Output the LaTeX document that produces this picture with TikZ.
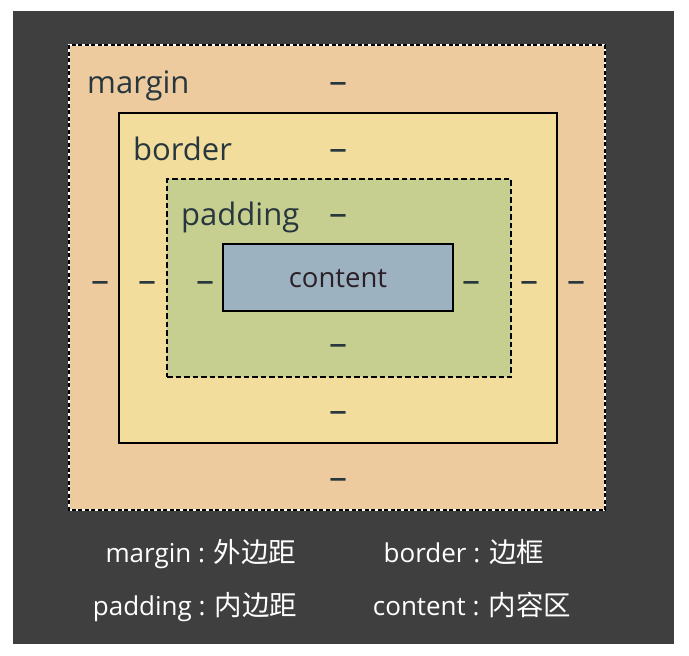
\documentclass[tikz,border=0pt]{standalone}
\usepackage{fontspec}
\setmainfont{Open Sans}
\newfontfamily\cjk{Noto Sans CJK SC}
\definecolor{bgdark}{HTML}{3F3F3F}
\definecolor{marginfill}{HTML}{EDCB9F}
\definecolor{borderfill}{HTML}{F3DD9D}
\definecolor{paddingfill}{HTML}{C6CF90}
\definecolor{contentfill}{HTML}{9DB2C0}
\definecolor{boxtext}{HTML}{28363E}
\definecolor{contenttext}{HTML}{2B2027}
\newcommand{\zh}[1]{{\cjk\fontsize{27.5}{30}\selectfont #1}}
\begin{document}
\begin{tikzpicture}[x=1pt,y=-1pt,
  layer/.style={anchor=north west, inner sep=0pt, outer sep=0pt},
  boxlabel/.style={anchor=base west, inner sep=0pt, text=boxtext,
    font=\fontsize{31}{34}\selectfont},
  dashmark/.style={anchor=base, inner sep=0pt, yshift=-9.6pt, text=boxtext,
    font=\fontsize{36}{38}\selectfont},
  legend/.style={anchor=base, inner sep=0pt, text=white,
    font=\fontsize{26}{30}\selectfont}]
\fill[white] (0,0) rectangle (689,656);
\useasboundingbox (0,0) rectangle (689,656);
\fill[bgdark] (13,11) rectangle (674,644);

% nested boxes of the box model
\node[layer, fill=marginfill, draw=white, line width=1.6pt,
      minimum width=536pt, minimum height=465pt] (margin) at (69,45) {};
\draw[line width=1.6pt, dash pattern=on 4pt off 2.5pt]
  (margin.north west) rectangle (margin.south east);
\node[layer, fill=borderfill, draw=black, line width=2pt,
      minimum width=438pt, minimum height=330pt] (border) at (119,113) {};
\node[layer, fill=paddingfill, draw=black, line width=1.8pt,
      dash pattern=on 5.5pt off 3pt,
      minimum width=344pt, minimum height=198pt] (padding) at (167,179) {};
\node[layer, fill=contentfill, draw=black, line width=2pt,
      minimum width=230pt, minimum height=67pt] (content) at (223,244) {};

% box labels
\node[boxlabel] (lmargin) at (87,93) {margin};
\node[boxlabel] (lborder) at (133,160) {border};
\node[boxlabel] (lpadding) at (181,225) {padding};
\node[anchor=base, inner sep=0pt, text=contenttext,
      font=\fontsize{27.5}{30}\selectfont] (lcontent) at (338,287) {content};

% size placeholders
\node[dashmark] (mt) at (338,84) {–};
\node[dashmark] (bt) at (338,151) {–};
\node[dashmark] (pt) at (338,216) {–};
\node[dashmark] (pb) at (338,346) {–};
\node[dashmark] (bb) at (338,413) {–};
\node[dashmark] (mb) at (338,480) {–};
\node[dashmark] (ml) at (100,283) {–};
\node[dashmark] (bl) at (147,283) {–};
\node[dashmark] (pl) at (205,283) {–};
\node[dashmark] (pr) at (471,283) {–};
\node[dashmark] (br) at (529,283) {–};
\node[dashmark] (mr) at (576,283) {–};

% legend
\node[legend] (kmargin) at (201,562) {margin : \zh{外边距}};
\node[legend] (kborder) at (464,562) {border : \zh{边框}};
\node[legend] (kpadding) at (195,615) {padding : \zh{内边距}};
\node[legend] (kcontent) at (472,615) {content : \zh{内容区}};
\end{tikzpicture}
\end{document}
